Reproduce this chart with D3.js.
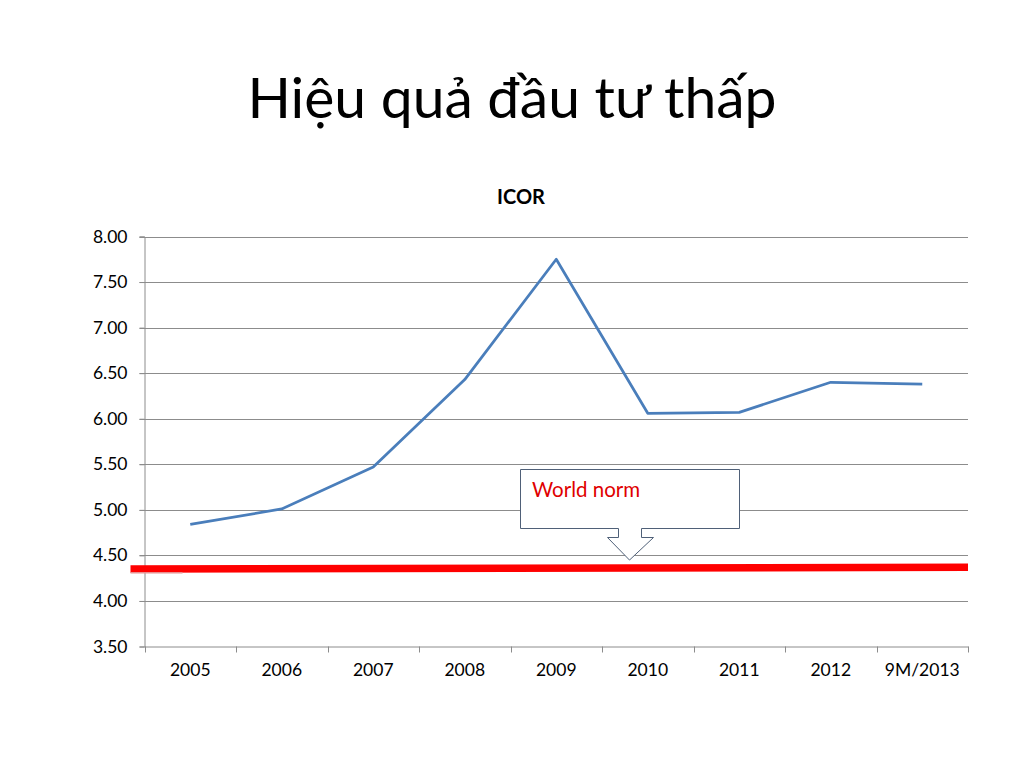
<!DOCTYPE html>
<html><head><meta charset="utf-8">
<script src="https://cdn.jsdelivr.net/npm/d3@7"></script>
<style>body{margin:0;background:#fff;}svg{display:block;font-family:Lato,"Open Sans",sans-serif;}</style>
</head><body>
<svg id="c" width="1024" height="768"></svg>
<script>
const categories = ["2005","2006","2007","2008","2009","2010","2011","2012","9M/2013"];
const icor = [4.84, 5.01, 5.47, 6.43, 7.75, 6.06, 6.07, 6.40, 6.38];
const yTicks = [3.5, 4.0, 4.5, 5.0, 5.5, 6.0, 6.5, 7.0, 7.5, 8.0];
const worldNorm = [4.35, 4.37]; // left end, right end
const title = "Hiệu quả đầu tư thấp";
const chartTitle = "ICOR";
const calloutText = "World norm";

const svg = d3.select("#c");
const L = 144.5, R = 968, T = 236.5, B = 646.5;
const x = d3.scaleBand().domain(categories).range([L, R]);
const y = d3.scaleLinear().domain([3.5, 8]).range([B, T]);

svg.append("text").attr("x", 512).attr("y", 118).attr("text-anchor","middle")
  .attr("font-size", 57).attr("fill","#000").text(title);
svg.append("text").attr("x", 521).attr("y", 204).attr("text-anchor","middle")
  .attr("font-size", 20).attr("font-weight","bold").attr("fill","#000").text(chartTitle);

// gridlines
svg.append("g").selectAll("line").data(yTicks.filter(d=>d>3.5)).join("line")
  .attr("x1", L-5).attr("x2", R).attr("y1", d=>Math.round(y(d))+0.5).attr("y2", d=>Math.round(y(d))+0.5)
  .attr("stroke","#8c8c8c").attr("stroke-width",1);

// y axis
const ya = svg.append("g").attr("transform",`translate(${L},0)`)
  .call(d3.axisLeft(y).tickValues(yTicks).tickFormat(d3.format(".2f")).tickSize(5).tickPadding(12));
ya.select(".domain").attr("stroke","#8c8c8c");
ya.selectAll(".tick line").attr("stroke","#8c8c8c");
ya.selectAll("text").attr("font-size",17.5).attr("fill","#000").attr("font-family","Lato,'Open Sans',sans-serif");

// x axis
const xa = svg.append("g").attr("transform",`translate(0,${B})`)
  .call(d3.axisBottom(x).tickSize(0).tickPadding(17));
xa.select(".domain").attr("stroke","#8c8c8c");
xa.selectAll("text").attr("font-size",17.5).attr("fill","#000").attr("font-family","Lato,'Open Sans',sans-serif");
const bounds = categories.map(c=>x(c)).concat([R]);
svg.append("g").selectAll("line").data(bounds).join("line")
  .attr("x1", d=>Math.round(d)+0.5).attr("x2", d=>Math.round(d)+0.5).attr("y1", B).attr("y2", B+6)
  .attr("stroke","#8c8c8c");

// series line
const line = d3.line().x((d,i)=>x(categories[i])+x.bandwidth()/2).y(d=>y(d));
svg.append("path").datum(icor).attr("d", line).attr("fill","none")
  .attr("stroke","#4a7ebb").attr("stroke-width",2.75).attr("stroke-linejoin","round");

// world norm red bar
svg.append("line").attr("x1", L-14).attr("x2", R).attr("y1", y(worldNorm[0])).attr("y2", y(worldNorm[1]))
  .attr("stroke","#ff0000").attr("stroke-width",7.5);
svg.append("line").attr("x1", L-14).attr("x2", L+38).attr("y1", y(worldNorm[0])+3.8).attr("y2", y(worldNorm[0])+3.8)
  .attr("stroke","#e89090").attr("stroke-width",1.5);

// callout
const cx0 = 520.5, cx1 = 739.5, cy0 = 469.5, cy1 = 528.5;
const sx0 = 618.5, sx1 = 641.5, sy = 537.5, ax0 = 607.5, ax1 = 653.5, tipX = 629.5, tipY = y(worldNorm[0]) - 9;
const p = `M${cx0},${cy0}H${cx1}V${cy1}H${sx1}V${sy}H${ax1}L${tipX},${tipY}L${ax0},${sy}H${sx0}V${cy1}H${cx0}Z`;
svg.append("path").attr("d", p).attr("fill","#fff").attr("stroke","#4f6078").attr("stroke-width",1);
svg.append("text").attr("x", 532).attr("y", 497).attr("font-size", 20.5).attr("fill","#e00000").text(calloutText);
</script>
</body></html>
